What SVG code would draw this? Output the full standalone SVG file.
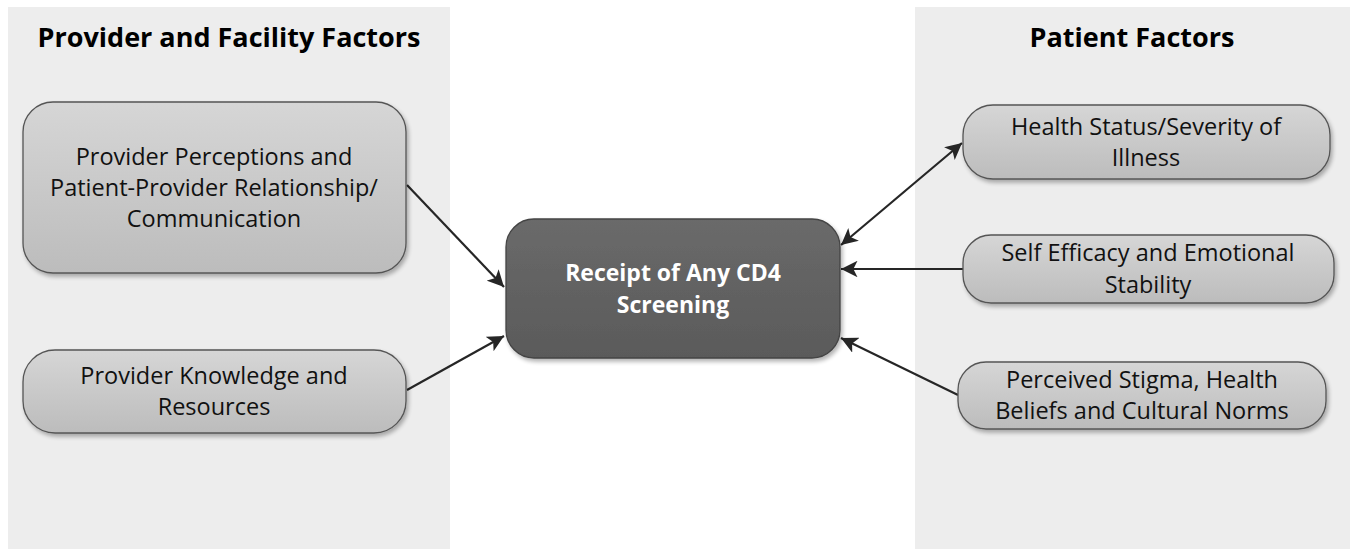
<svg xmlns="http://www.w3.org/2000/svg" width="1354" height="549" viewBox="0 0 1354 549">
<defs>
<linearGradient id="gLight" x1="0" y1="0" x2="0" y2="1">
<stop offset="0" stop-color="#d6d6d6"/>
<stop offset="1" stop-color="#bcbcbc"/>
</linearGradient>
<linearGradient id="gDark" x1="0" y1="0" x2="0" y2="1">
<stop offset="0" stop-color="#6a6a6a"/>
<stop offset="1" stop-color="#5a5a5a"/>
</linearGradient>
<filter id="shadow" x="-10%" y="-10%" width="130%" height="130%">
<feGaussianBlur in="SourceAlpha" stdDeviation="2"/>
<feOffset dx="2" dy="3" result="b"/>
<feComponentTransfer><feFuncA type="linear" slope="0.3"/></feComponentTransfer>
<feMerge><feMergeNode/><feMergeNode in="SourceGraphic"/></feMerge>
</filter>
<marker id="arr" viewBox="0 0 10 10" refX="10" refY="5" markerWidth="7.5" markerHeight="7.5" orient="auto-start-reverse" markerUnits="strokeWidth">
<path d="M0,0 L10,5 L0,10 L2.5,5 Z" fill="#262626"/>
</marker>
<style>
.panel{fill:#ededed}
.title{font-family:"Open Sans","Liberation Sans",sans-serif;font-weight:bold;font-size:27px;fill:#000;text-anchor:middle}
.node{fill:url(#gLight);stroke:#555;stroke-width:1.3;filter:url(#shadow)}
.center{fill:url(#gDark);stroke:#444;stroke-width:1.3;filter:url(#shadow)}
.lbl{font-family:"Open Sans","Liberation Sans",sans-serif;font-size:23.5px;fill:#111;text-anchor:middle}
.clbl{font-family:"Open Sans","Liberation Sans",sans-serif;font-weight:bold;font-size:23px;fill:#fff;text-anchor:middle}
.conn{stroke:#262626;stroke-width:2.2;fill:none}
</style>
</defs>
<rect width="1354" height="549" fill="#fff"/>
<g id="panel-left">
<rect class="panel" x="8" y="7" width="442" height="542"/>
<text class="title" x="229" y="47">Provider and Facility Factors</text>
</g>
<g id="panel-right">
<rect class="panel" x="915" y="7" width="435" height="542"/>
<text class="title" x="1132" y="47">Patient Factors</text>
</g>
<g id="connectors">
<line class="conn" x1="407" y1="185" x2="504" y2="287" marker-end="url(#arr)"/>
<line class="conn" x1="407" y1="390" x2="504" y2="336" marker-end="url(#arr)"/>
<line class="conn" x1="841" y1="245" x2="962" y2="143" marker-start="url(#arr)" marker-end="url(#arr)"/>
<line class="conn" x1="963" y1="269" x2="841" y2="269" marker-end="url(#arr)"/>
<line class="conn" x1="958" y1="395" x2="841" y2="338" marker-end="url(#arr)"/>
</g>
<g id="node-perceptions">
<rect class="node" x="23" y="102" width="383" height="171" rx="30"/>
<text class="lbl" x="214" y="165">Provider Perceptions and</text>
<text class="lbl" x="214" y="196">Patient-Provider Relationship/</text>
<text class="lbl" x="214" y="227">Communication</text>
</g>
<g id="node-knowledge">
<rect class="node" x="23" y="350" width="383" height="83" rx="32"/>
<text class="lbl" x="214" y="384">Provider Knowledge and</text>
<text class="lbl" x="214" y="415">Resources</text>
</g>
<g id="node-center">
<rect class="center" x="506" y="219" width="334" height="139" rx="28"/>
<text class="clbl" x="673" y="281">Receipt of Any CD4</text>
<text class="clbl" x="673" y="313">Screening</text>
</g>
<g id="node-health">
<rect class="node" x="963" y="105" width="367" height="74" rx="30"/>
<text class="lbl" x="1146" y="135">Health Status/Severity of</text>
<text class="lbl" x="1146" y="166">Illness</text>
</g>
<g id="node-self">
<rect class="node" x="963" y="235" width="371" height="68" rx="28"/>
<text class="lbl" x="1148" y="261">Self Efficacy and Emotional</text>
<text class="lbl" x="1148" y="293">Stability</text>
</g>
<g id="node-stigma">
<rect class="node" x="958" y="362" width="368" height="67" rx="28"/>
<text class="lbl" x="1142" y="388">Perceived Stigma, Health</text>
<text class="lbl" x="1142" y="419">Beliefs and Cultural Norms</text>
</g>
</svg>
